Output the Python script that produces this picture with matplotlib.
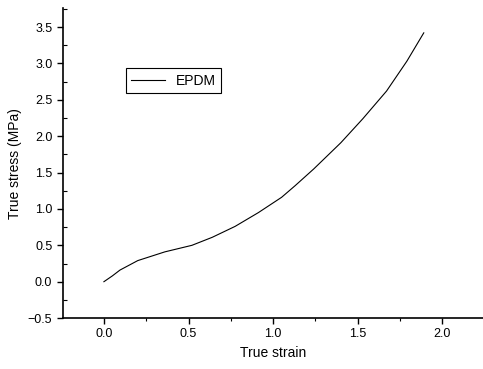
import numpy as np
import matplotlib.pyplot as plt
from matplotlib.ticker import MultipleLocator

# EPDM true stress-strain curve
strain = [0.0, 0.05, 0.095, 0.20, 0.36, 0.52, 0.64, 0.775, 0.913, 1.05,
          1.13, 1.24, 1.40, 1.53, 1.67, 1.79, 1.89]
stress = [0.0, 0.08, 0.16, 0.29, 0.41, 0.50, 0.61, 0.76, 0.95, 1.16,
          1.32, 1.55, 1.91, 2.24, 2.62, 3.03, 3.42]

plt.rcParams['font.family'] = ['Liberation Sans', 'DejaVu Sans']

fig = plt.figure(figsize=(4.83, 3.69), dpi=100)
ax = fig.add_axes([0.130, 0.138, 0.870, 0.840])

ax.plot(strain, stress, color='black', linewidth=0.8, label='EPDM')

ax.set_xlim(-0.243, 2.24)
ax.set_ylim(-0.5, 3.76)
ax.xaxis.set_major_locator(MultipleLocator(0.5))
ax.xaxis.set_minor_locator(MultipleLocator(0.25))
ax.yaxis.set_major_locator(MultipleLocator(0.5))
ax.yaxis.set_minor_locator(MultipleLocator(0.25))

ax.spines['top'].set_visible(False)
ax.spines['right'].set_visible(False)
ax.spines['left'].set_linewidth(1.2)
ax.spines['bottom'].set_linewidth(1.2)

ax.tick_params(axis='both', which='major', direction='out', length=4, width=1, labelsize=9)
ax.tick_params(axis='y', which='minor', direction='in', length=3, width=0.8)
ax.tick_params(axis='x', which='minor', direction='out', length=2, width=0.8)

ax.set_xlabel('True strain', fontsize=10)
ax.set_ylabel('True stress (MPa)', fontsize=10)

leg = ax.legend(loc='upper left', bbox_to_anchor=(0.15, 0.806), borderaxespad=0,
                fancybox=False, edgecolor='black', fontsize=10, handlelength=2.4,
                framealpha=1)
leg.get_frame().set_linewidth(0.8)

plt.savefig('out.png', dpi=100)
